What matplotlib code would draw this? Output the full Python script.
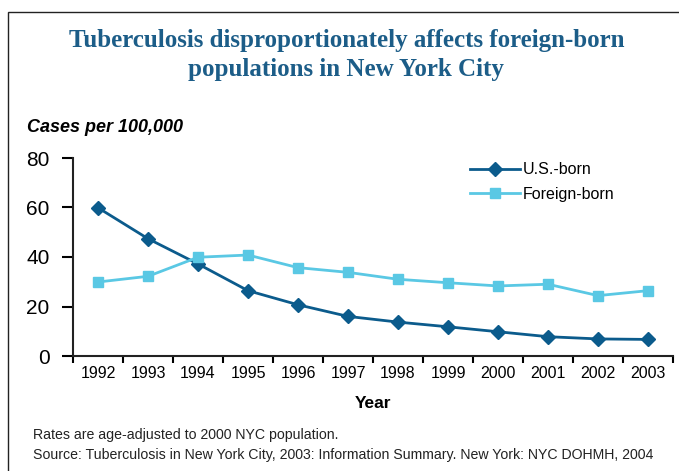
from matplotlib import pyplot as plt
from matplotlib.patches import Rectangle

years = ['1992', '1993', '1994', '1995', '1996', '1997',
         '1998', '1999', '2000', '2001', '2002', '2003']
us_born = [59.9, 47.4, 37.2, 26.4, 20.7, 16.0, 13.7, 11.8, 9.8, 7.8, 6.9, 6.7]
foreign_born = [29.9, 32.2, 39.9, 40.8, 35.7, 33.8, 31.0, 29.6, 28.3, 29.0, 24.4, 26.4]

W, H = 679, 471
fig = plt.figure(figsize=(W / 100, H / 100), dpi=100)

# cadre autour de la figure
fig.patches.append(Rectangle((8 / W, -0.1), 1.1, 1 - 12 / H + 0.1, transform=fig.transFigure,
                             fill=False, edgecolor='#222222', linewidth=1.0))

ax = fig.add_axes([73 / W, 1 - 356 / H, 600 / W, 198 / H])
x = range(len(years))
ax.plot(x, us_born, color='#0b5b8c', linewidth=2, marker='D', markersize=7, label='U.S.-born')
ax.plot(x, foreign_born, color='#5ac8e4', linewidth=2, marker='s', markersize=7, label='Foreign-born')

ax.set_xlim(-0.5, len(years) - 0.5)
ax.set_ylim(0, 80)
ax.set_yticks([0, 20, 40, 60, 80])
ax.set_xticks([i - 0.5 for i in range(len(years) + 1)], minor=False)
ax.set_xticklabels([])
ax.set_xticks(list(x), minor=True)
ax.set_xticklabels(years, minor=True, fontsize=11.5, family='Liberation Sans')
ax.tick_params(axis='x', which='minor', length=0, pad=7)
ax.tick_params(axis='x', which='major', length=5, width=1.5, direction='out')
ax.tick_params(axis='y', length=8, width=1.5, labelsize=15, pad=9)
for lab in ax.get_yticklabels():
    lab.set_family('Liberation Sans')

for s in ['top', 'right']:
    ax.spines[s].set_visible(False)
for s in ['left', 'bottom']:
    ax.spines[s].set_linewidth(1.5)
    ax.spines[s].set_color('#222222')

ax.set_xlabel('Year', fontsize=12.5, fontweight='bold', family='Liberation Sans', labelpad=11)

leg = ax.legend(loc='upper left', bbox_to_anchor=(383 / 600, 1.05), frameon=False,
                prop={'family': 'Liberation Sans', 'size': 11.5}, handlelength=3.1,
                handletextpad=0.2, labelspacing=0.6)

fig.text(0.51, 1 - 55 / H, 'Tuberculosis disproportionately affects foreign-born\npopulations in New York City',
         ha='center', va='center', fontsize=18, fontweight='bold', family='Liberation Serif',
         color='#1c5d88', linespacing=1.3)
fig.text(27 / W, 1 - 127 / H, 'Cases per 100,000', ha='left', va='center', fontsize=13,
         fontweight='bold', fontstyle='italic', family='Liberation Sans')
fig.text(33 / W, 1 - 435 / H, 'Rates are age-adjusted to 2000 NYC population.',
         ha='left', va='center', fontsize=10.2, family='Liberation Sans', color='#222222')
fig.text(33 / W, 1 - 455 / H,
         'Source: Tuberculosis in New York City, 2003: Information Summary. New York: NYC DOHMH, 2004',
         ha='left', va='center', fontsize=10.2, family='Liberation Sans', color='#222222')

fig.savefig('out.png', dpi=100)
